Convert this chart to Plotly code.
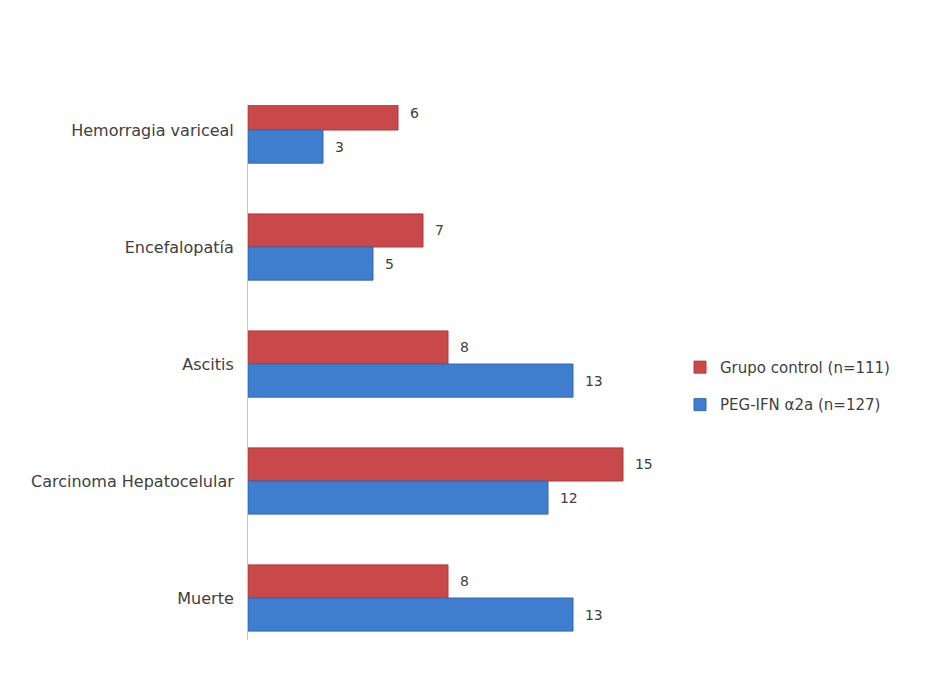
import plotly.graph_objects as go

categories = ["Muerte", "Carcinoma Hepatocelular", "Ascitis", "Encefalopatía", "Hemorragia variceal"]
control_values = [8, 15, 8, 7, 6]
pegifn_values = [13, 12, 13, 5, 3]
series_names = ["Grupo control (n=111)", "PEG-IFN α2a (n=127)"]

pos = list(range(len(categories)))
bar_w = 0.283

fig = go.Figure()
fig.add_trace(go.Bar(
    y=pos, x=control_values, orientation="h", name=series_names[0], legendgroup="a",
    offset=0, width=bar_w,
    marker=dict(color="#C9484A", line=dict(color="#B03A3C", width=1)),
    text=control_values, texttemplate="  %{x}", textposition="outside",
    textfont=dict(size=14, color="#404040"), cliponaxis=False,
))
fig.add_trace(go.Bar(
    y=pos, x=pegifn_values, orientation="h", name=series_names[1], legendgroup="b",
    offset=-bar_w, width=bar_w,
    marker=dict(color="#3F7ECF", line=dict(color="#3569B0", width=1)),
    text=pegifn_values, texttemplate="  %{x}", textposition="outside",
    textfont=dict(size=14, color="#404040"), cliponaxis=False,
))

fig.update_layout(
    width=941, height=695,
    margin=dict(l=240, r=269, t=97, b=63, autoexpand=False),
    paper_bgcolor="white", plot_bgcolor="white",
    font=dict(family="DejaVu Sans, sans-serif", size=14, color="#404040"),
    barmode="overlay",
    showlegend=True,
    legend=dict(x=1.0, y=0.475, xanchor="left", yanchor="middle",
                font=dict(size=15, color="#404040"), itemwidth=30,
                tracegroupgap=15),
    xaxis=dict(range=[0, 17.28], visible=False, showgrid=False, zeroline=False),
    yaxis=dict(range=[-0.359, 4.214], tickmode="array", tickvals=pos, ticktext=categories,
               showline=True, linecolor="#C8C8C8", linewidth=1, showgrid=False,
               zeroline=False, ticks="", ticklabelstandoff=10,
               tickfont=dict(size=16, color="#404040")),
)

fig.write_html("out.html")
